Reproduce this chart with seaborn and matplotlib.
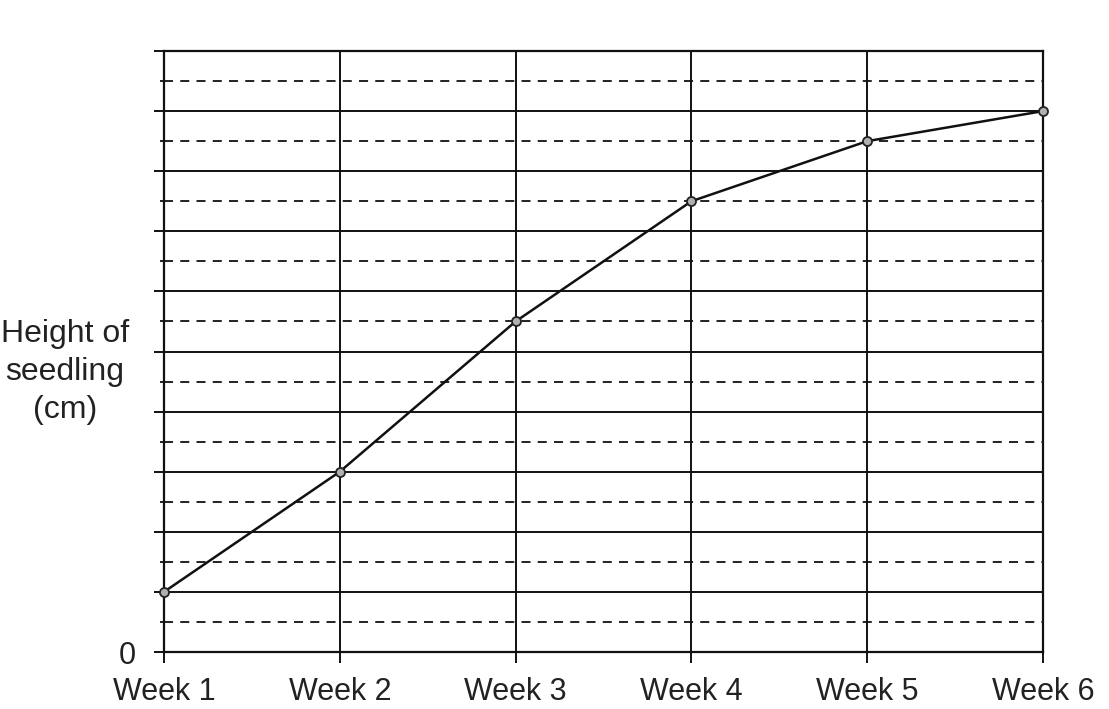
import numpy as np
import pandas as pd
import matplotlib
matplotlib.use('Agg')
import matplotlib.pyplot as plt
import seaborn as sns

# values
weeks = ['Week 1', 'Week 2', 'Week 3', 'Week 4', 'Week 5', 'Week 6']
height_cm = [1, 3, 5.5, 7.5, 8.5, 9]
y_max = 10

df = pd.DataFrame({'week': np.arange(len(weeks)), 'height': height_cm})

sns.set_style('white')
plt.rcParams['font.family'] = ['Liberation Sans', 'DejaVu Sans']

fig = plt.figure(figsize=(11.09, 7.09), dpi=100)
ax = fig.add_axes([164 / 1109, 1 - 652 / 709, (1043 - 164) / 1109, (652 - 51) / 709])

sns.lineplot(data=df, x='week', y='height', ax=ax, color='#111111', linewidth=1.8,
             marker='o', markersize=6.5, markerfacecolor='#b0b0b0',
             markeredgecolor='#222222', markeredgewidth=1.3, zorder=5, clip_on=False)

ax.set_xlim(0, len(weeks) - 1)
ax.set_ylim(0, y_max)
ax.set_xticks(range(len(weeks)))
ax.set_xticklabels(weeks)
ax.set_yticks(np.arange(0, y_max + 1))
ax.set_yticks(np.arange(0.5, y_max, 1), minor=True)
ax.set_yticklabels(['0'] + [''] * y_max)

ax.grid(which='major', axis='both', color='#111111', linewidth=1.4)
ax.grid(which='minor', axis='y', color='#111111', linewidth=1.3, linestyle=(0, (5, 4)))
ax.tick_params(axis='x', which='major', direction='out', length=8, width=1.4, bottom=True,
               color='#111111', labelsize=22, pad=10, labelcolor='#222222')
ax.tick_params(axis='y', which='major', direction='out', length=7, width=1.4, left=True,
               color='#111111', labelsize=22, pad=13, labelcolor='#222222')
ax.tick_params(axis='y', which='minor', direction='out', length=3, width=1.3, left=True,
               color='#111111')

for side in ['left', 'bottom', 'top', 'right']:
    ax.spines[side].set_visible(True)
    ax.spines[side].set_color('#111111')
    ax.spines[side].set_linewidth(1.6)

ax.set_xlabel('')
ax.set_ylabel('')
fig.text(65 / 1109, 1 - 372 / 709, 'Height of\nseedling\n(cm)', ha='center', va='center',
         fontsize=23, linespacing=1.35, color='#222222')

fig.savefig('out.png', dpi=100)
